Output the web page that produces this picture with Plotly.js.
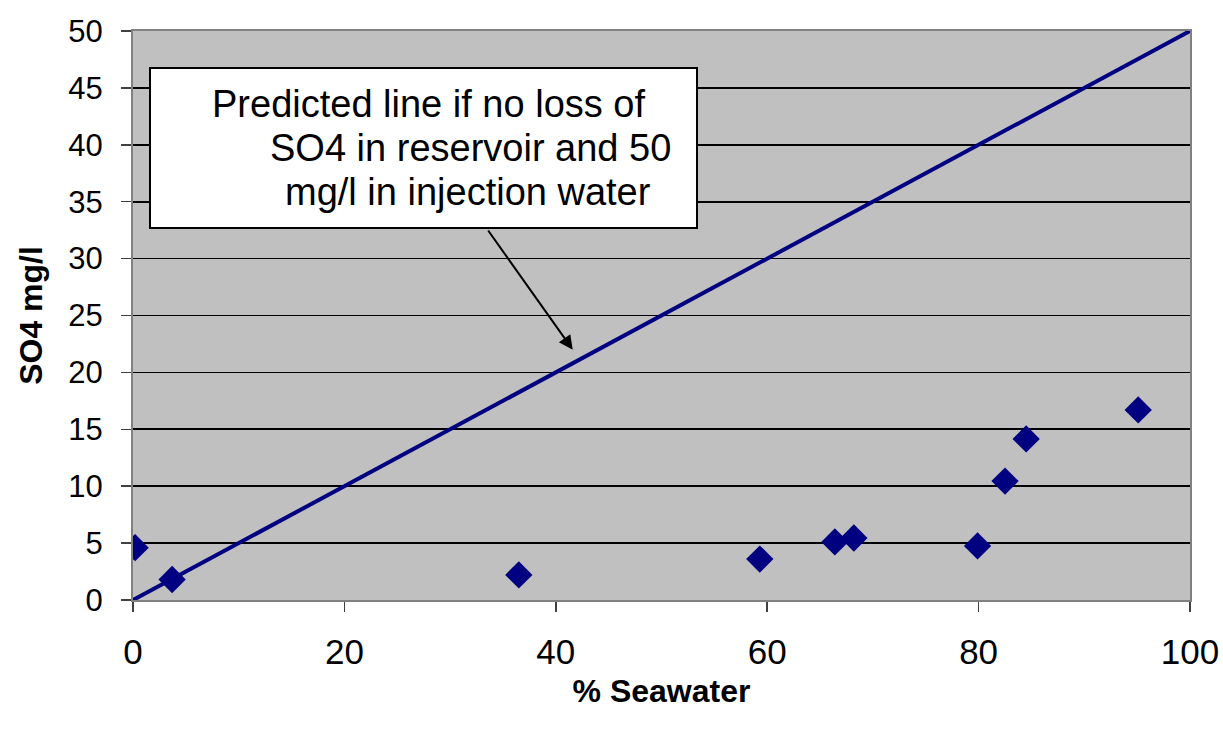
<!DOCTYPE html>
<html>
<head>
<meta charset="utf-8">
<script src="https://cdn.plot.ly/plotly-3.0.1.min.js"></script>
<style>html,body{margin:0;padding:0;background:#fff;}#chart{width:1223px;height:730px;}</style>
</head>
<body>
<div id="chart"></div>
<script>
// Measured samples
const seawaterPct = [0.2, 3.7, 36.5, 59.3, 66.4, 68.2, 79.9, 82.5, 84.5, 95.1];
const so4Measured = [4.6, 1.8, 2.2, 3.6, 5.1, 5.45, 4.75, 10.45, 14.15, 16.7];
// Predicted mixing line (no loss, 50 mg/l in injection water)
const predictedX = [0, 100];
const predictedY = [0, 50];
const xTicks = [0, 20, 40, 60, 80, 100];
const yTicks = [0, 5, 10, 15, 20, 25, 30, 35, 40, 45, 50];
const noteLines = ["Predicted line if no loss of", "SO4 in reservoir and 50", "mg/l in injection water"];

const font = "Arial, 'Liberation Sans', sans-serif";

// plot area geometry (pixels) used to place the callout
const L = 133, T = 31, W = 1057, H = 569;
const px = p => (p - L) / W;
const py = p => (T + H - p) / H;

const traces = [
  {
    x: predictedX, y: predictedY, mode: "lines", type: "scatter",
    line: {color: "#000080", width: 4}, hoverinfo: "skip", showlegend: false
  },
  {
    x: seawaterPct, y: so4Measured, mode: "markers", type: "scatter",
    marker: {symbol: "diamond", size: 21, color: "#000080", line: {width: 0}},
    showlegend: false
  }
];

const lineX = [210, 268, 283];
const lineY = [104, 148, 192];
const annotations = noteLines.map((t, i) => ({
  xref: "paper", yref: "paper", x: px(lineX[i]), y: py(lineY[i]),
  xanchor: "left", yanchor: "middle", text: t, showarrow: false,
  font: {size: 38, family: font, color: "#000"}
}));
annotations.push({
  xref: "x", yref: "y",
  x: 41.6, y: 22.0, ax: 33.5, ay: 32.6, axref: "x", ayref: "y",
  text: "", showarrow: true, arrowhead: 2, arrowsize: 1.4, arrowwidth: 2, arrowcolor: "#000"
});

const layout = {
  width: 1223, height: 730,
  margin: {l: L, r: 1223 - L - W, t: T, b: 730 - T - H},
  paper_bgcolor: "#ffffff",
  plot_bgcolor: "#c0c0c0",
  showlegend: false,
  font: {family: font, color: "#000"},
  xaxis: {
    range: [0, 100], tickvals: xTicks, ticktext: xTicks.map(String),
    showgrid: false, zeroline: false,
    showline: true, linecolor: "#808080", linewidth: 2, mirror: true,
    ticks: "outside", ticklen: 10, tickcolor: "#404040", tickwidth: 1.5,
    ticklabelstandoff: 10,
    tickfont: {size: 35, family: font, color: "#000"},
    title: {text: "<b>% Seawater</b>", font: {size: 32, family: font, color: "#000"}, standoff: 10}
  },
  yaxis: {
    range: [0, 50], tickvals: yTicks, ticktext: yTicks.map(String),
    showgrid: true, gridcolor: "#000000", gridwidth: 1.6, zeroline: false,
    showline: true, linecolor: "#808080", linewidth: 2, mirror: true,
    ticks: "outside", ticklen: 10, tickcolor: "#404040", tickwidth: 1.5,
    ticklabelstandoff: 12,
    tickfont: {size: 31, family: font, color: "#000"},
    title: {text: "<b>SO4 mg/l</b>", font: {size: 32, family: font, color: "#000"}, standoff: 16}
  },
  shapes: [
    {
      type: "rect", xref: "paper", yref: "paper",
      x0: px(150), x1: px(697), y0: py(228), y1: py(68),
      fillcolor: "#ffffff", line: {color: "#000000", width: 2}, layer: "above"
    }
  ],
  annotations: annotations
};

Plotly.newPlot("chart", traces, layout, {displayModeBar: false, staticPlot: true});
</script>
</body>
</html>
